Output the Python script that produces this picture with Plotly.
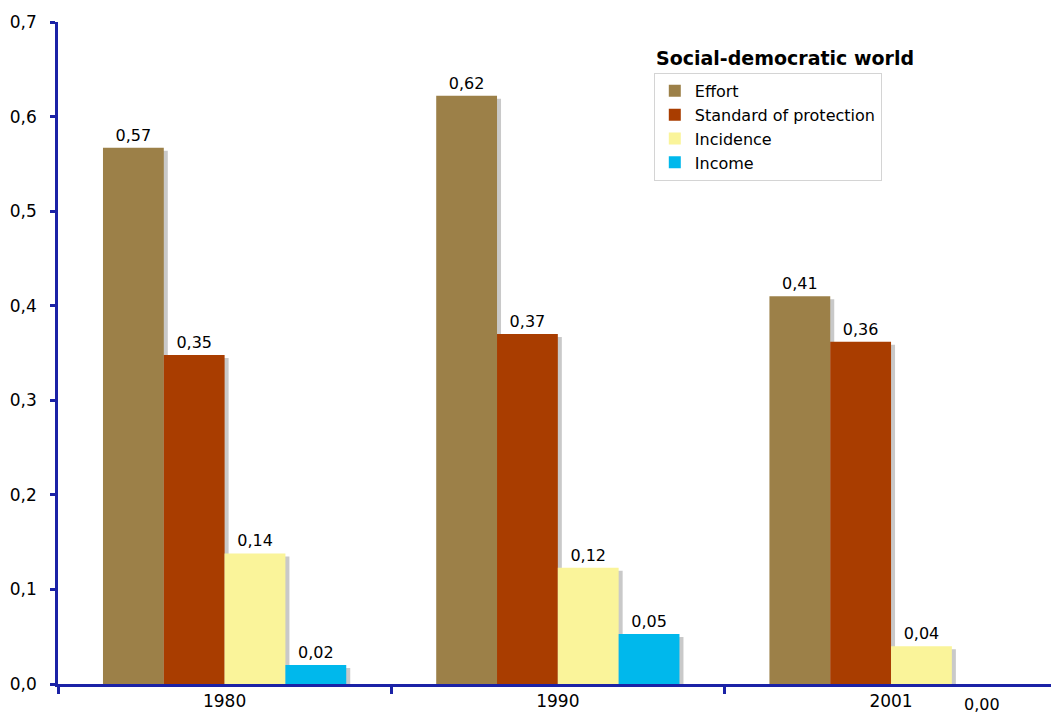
import plotly.graph_objects as go

years = ["1980", "1990", "2001"]
series_names = ["Effort", "Standard of protection", "Incidence", "Income"]
effort = [0.567, 0.622, 0.410]
standard = [0.348, 0.370, 0.362]
incidence = [0.138, 0.123, 0.040]
income = [0.020, 0.053, 0.000]
colors = ["#9c8048", "#a93d00", "#faf49a", "#00b8ec"]

values = [effort, standard, incidence, income]

W, H = 1051, 713
L, R, T, B = 58, 0, 22, 29
x_range = [-0.5, 2.48]
y_range = [0, 0.7]
plot_w = W - L - R
plot_h = H - T - B
cat_px = plot_w / (x_range[1] - x_range[0])
dx = 4 / cat_px
dy = 3 / plot_h * (y_range[1] - y_range[0])

AXIS = "#1b22a6"
FONT = "DejaVu Sans"

fig = go.Figure()

# shadows (base axes, shifted)
for name, vals in zip(series_names, values):
    fig.add_trace(go.Bar(
        x=years, y=vals, name=name, marker=dict(color="#c9c9c9", line=dict(width=0)),
        showlegend=False, hoverinfo="skip", xaxis="x", yaxis="y"))

# main bars
for name, vals, col in zip(series_names, values, colors):
    texts = [f"{v:.2f}".replace(".", ",") if v > 0 else "" for v in vals]
    fig.add_trace(go.Bar(
        x=years, y=vals, name=name, marker=dict(color=col, line=dict(width=0)),
        text=texts, textposition="outside", cliponaxis=False, constraintext="none",
        textfont=dict(family=FONT, size=16, color="#000"),
        xaxis="x2", yaxis="y2"))

bargap = 0.27
annotations = []
for si, vals in enumerate(values):
    for ci, v in enumerate(vals):
        if v == 0:
            annotations.append(dict(
                x=ci + (si - (len(series_names) - 1) / 2) * (1 - bargap) / len(series_names),
                y=0, xref="x2", yref="paper", xanchor="center", yanchor="top",
                text=f"{v:.2f}".replace(".", ","), showarrow=False,
                yshift=-9, font=dict(family=FONT, size=16, color="#000")))

annotations.append(dict(
    x=0.6, y=0.9456, xref="paper", yref="paper", xanchor="left", yanchor="middle",
    text="<b>Social-democratic world</b>", showarrow=False,
    font=dict(family=FONT, size=19, color="#000")))

fig.update_layout(
    width=W, height=H,
    margin=dict(l=L, r=R, t=T, b=B),
    paper_bgcolor="white", plot_bgcolor="white",
    barmode="group", bargap=bargap, bargroupgap=0,
    separators=",.",
    font=dict(family=FONT, size=15, color="#000"),
    xaxis=dict(type="category", range=[x_range[0] - dx, x_range[1] - dx],
               visible=False, fixedrange=True),
    yaxis=dict(range=[y_range[0] + dy, y_range[1] + dy], visible=False),
    xaxis2=dict(type="category", range=x_range, overlaying="x",
                showline=True, linecolor=AXIS, linewidth=2.5,
                ticks="outside", tickson="boundaries", ticklen=7, tickwidth=2.5,
                tickcolor=AXIS, showgrid=False, zeroline=False,
                tickfont=dict(family=FONT, size=17, color="#000")),
    yaxis2=dict(range=y_range, overlaying="y", side="left",
                showline=True, linecolor=AXIS, linewidth=2.5,
                ticks="outside", ticklen=5, tickwidth=2.5, tickcolor=AXIS,
                dtick=0.1, tickformat=".1f", showgrid=False, zeroline=False,
                ticklabelstandoff=10,
                tickfont=dict(family=FONT, size=17, color="#000")),
    legend=dict(x=0.6, y=0.923, xanchor="left", yanchor="top",
                bordercolor="#d4d4d4", borderwidth=1, bgcolor="white",
                font=dict(family=FONT, size=16, color="#000"),
                tracegroupgap=0, itemwidth=30),
    annotations=annotations,
)

fig.write_html("out.html")
